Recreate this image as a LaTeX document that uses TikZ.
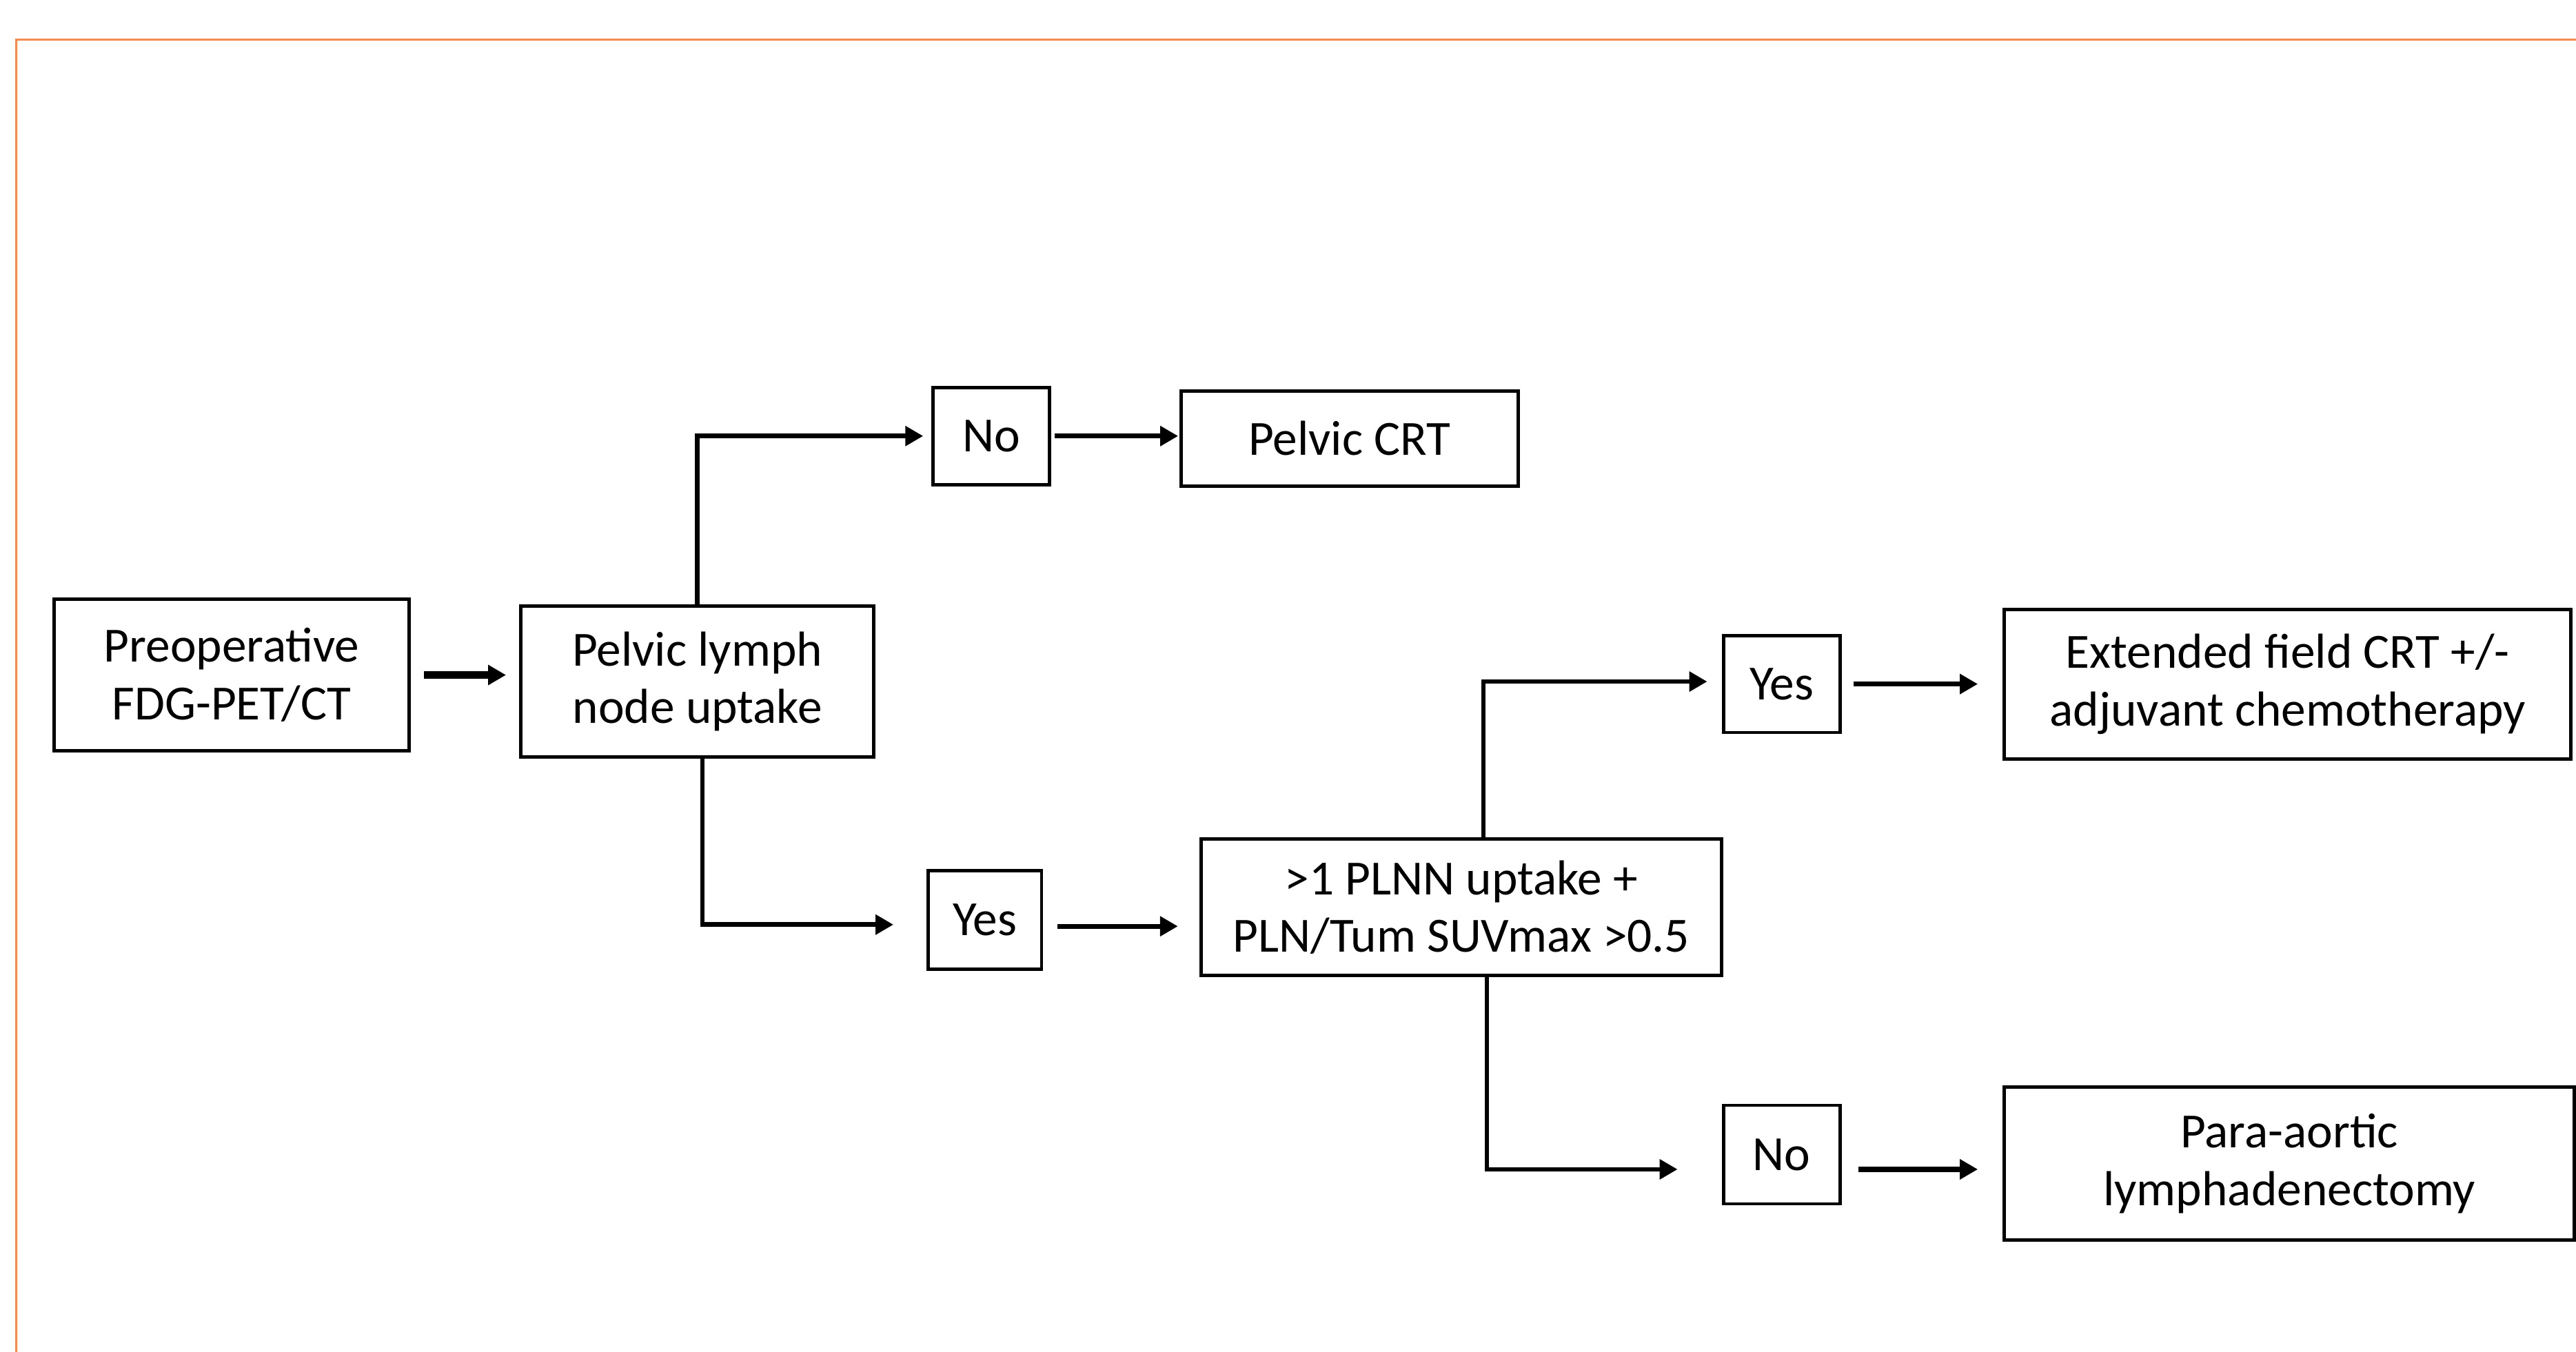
\documentclass[tikz,border=0pt]{standalone}
\usepackage{fontspec}
\setmainfont{Carlito}
\usetikzlibrary{arrows.meta,calc}
\definecolor{frameorange}{RGB}{242,140,80}
\begin{document}
\begin{tikzpicture}[x=0.02383cm, y=-0.02383cm,
  box/.style 2 args={draw, line width=1.4pt, minimum width=#1*0.02383cm, minimum height=#2*0.02383cm, inner sep=0pt, align=center, font=\fontsize{20.3}{23.8}\selectfont},
  arr/.style={line width=2.1pt, -{Triangle[length=0.26cm,width=0.28cm]}},
  conn/.style={line width=1.9pt, -{Triangle[length=0.26cm,width=0.28cm]}}]
\useasboundingbox (0,0) rectangle (1568,823);
\fill[white] (0,0) rectangle (1568,823);
\draw[frameorange, line width=0.8pt] (10,830) -- (10,24) -- (1575,24);

\node[box={216}{92}] (pre) at (141,411) {Preoperative\\FDG-PET/CT};
\node[box={215}{92}] (pel) at (424.5,415) {Pelvic lymph\\node uptake};
\node[box={71}{59}] (no1) at (603.5,265.5) {No};
\node[box={205}{58}] (crt) at (821.5,267) {Pelvic CRT};
\node[box={69}{60}] (yes1) at (599.5,560) {Yes};
\node[box={317}{83}] (plnn) at (889.5,552.5) {>1 PLNN uptake +\\PLN/Tum SUVmax >0.5};
\node[box={71}{59}] (yes2) at (1084.5,416.5) {Yes};
\node[box={345}{91}] (ext) at (1392.5,416.5) {Extended field CRT +/-\\adjuvant chemotherapy};
\node[box={71}{60}] (no2) at (1084.5,703) {No};
\node[box={347}{93}] (para) at (1393.5,708.5) {Para-aortic\\lymphadenectomy};

\draw[arr, line width=3pt, shorten <=0.19cm, shorten >=0.19cm] (pre.east) -- (pre.east -| pel.west);
\draw[conn, shorten >=0.12cm] (pel.north) |- (no1.west);
\draw[arr, shorten <=0.05cm, shorten >=0.02cm] (no1.east) -- (no1.east -| crt.west);
\draw[conn, shorten >=0.48cm] ($(pel.south)+(3,0)$) |- ($(yes1.west)+(0,3)$);
\draw[arr, shorten <=0.21cm, shorten >=0.31cm] ($(yes1.east)+(0,4)$) -- ($(yes1.east -| plnn.west)+(0,4)$);
\draw[conn, shorten >=0.21cm] ($(plnn.north)+(13.5,0)$) |- ($(yes2.west)+(0,-1.5)$);
\draw[arr, shorten <=0.17cm, shorten >=0.36cm] (yes2.east) -- (yes2.east -| ext.west);
\draw[conn, shorten >=0.64cm] ($(plnn.south)+(15.5,0)$) |- ($(no2.west)+(0,9)$);
\draw[arr, shorten <=0.24cm, shorten >=0.36cm] ($(no2.east)+(0,9)$) -- ($(no2.east -| para.west)+(0,9)$);
\end{tikzpicture}
\end{document}
